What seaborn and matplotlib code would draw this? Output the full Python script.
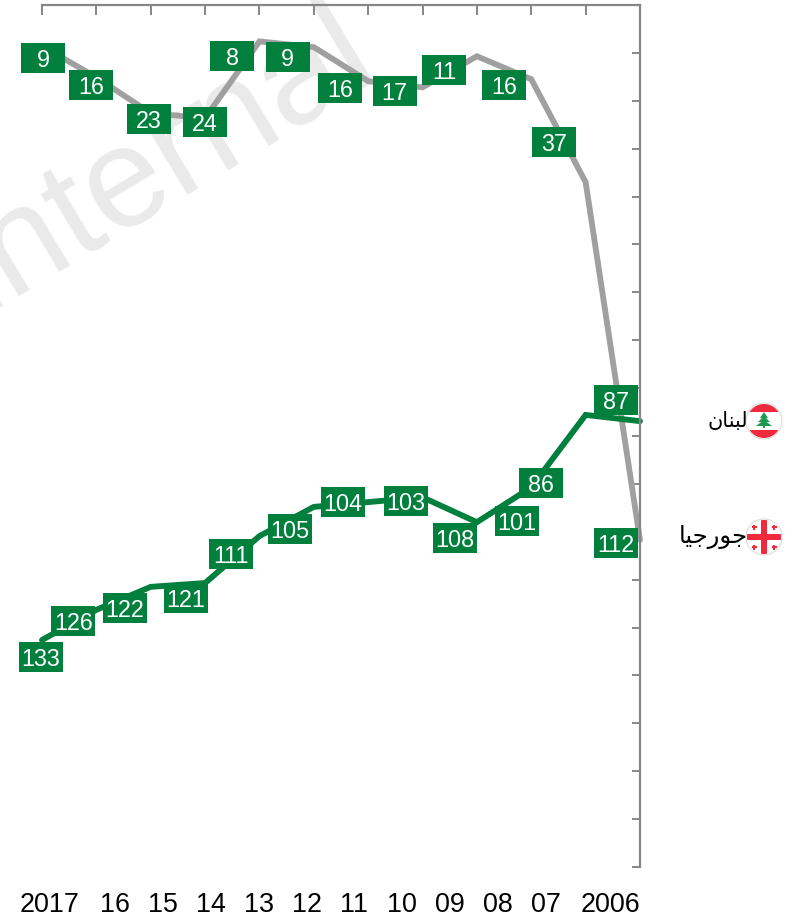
import numpy as np
import pandas as pd
import matplotlib
matplotlib.use("Agg")
import matplotlib.pyplot as plt
import seaborn as sns
from matplotlib.patches import Circle, Rectangle, Polygon
from matplotlib.path import Path
from matplotlib.transforms import Affine2D

years = ["2017", "16", "15", "14", "13", "12", "11", "10", "09", "08", "07", "2006"]

# arabic names, already in shaped form and visual order (matplotlib does not shape)
name_lebanon = "\uFEE5\uFE8E\uFEE8\uFE92\uFEDF"    # لبنان
name_georgia = "\uFE8E\uFEF4\uFE9F\uFEAD\uFEEE\uFE9F"    # جورجيا

georgia_pos = [17.14, 16.49, 15.74, 15.64, 17.24, 17.12, 16.41, 16.28, 16.93, 16.45, 14.30, 6.83]
lebanon_pos = [4.74, 5.37, 5.85, 5.93, 6.91, 7.52, 7.62, 7.72, 7.20, 7.93, 9.44, 9.31]
georgia_labels = [9, 16, 23, 24, 8, 9, 16, 17, 11, 16, 37, 112]
lebanon_labels = [133, 126, 122, 121, 111, 105, 104, 103, 108, 101, 86, 87]

# label box offsets from the point, in pixels (right, down)
georgia_off = [(1, 12), (-5, 8), (-2, 6), (0, 4), (-27, 15), (-26, 10),
               (-28, 7), (-28, 4), (-33, 14), (-27, 6), (-32, -40), (-24, 3)]
lebanon_off = [(-1, 17), (-23, 11), (-26, 21), (-19, 15), (-28, 18), (-24, 22),
               (-25, 0), (-17, 4), (-22, 16), (-14, 34), (-45, 68), (-24, -21)]

W, H = 796, 917
GREEN = "#007F3D"
GREY = "#A0A0A0"
AXIS = "#868686"
FONT = "Liberation Sans"

sns.set_style("white")
plt.rcParams["font.family"] = [FONT, "DejaVu Sans"]

fig = plt.figure(figsize=(W / 100, H / 100), dpi=100)
ax = fig.add_axes([42 / W, 1 - 867 / H, 598 / W, 862 / H])
ax.patch.set_visible(False)

df = pd.DataFrame({
    "x": list(range(12)) * 2,
    "pos": georgia_pos + lebanon_pos,
    "country": ["Georgia"] * 12 + ["Lebanon"] * 12,
})
sns.lineplot(data=df, x="x", y="pos", hue="country", palette={"Georgia": GREY, "Lebanon": GREEN},
             hue_order=["Georgia", "Lebanon"], linewidth=4.2, legend=False, ax=ax, clip_on=False,
             solid_joinstyle="miter")

ax.set_xlim(0, 11)
ax.set_ylim(0, 18)
ax.set_xticks(range(12))
ax.set_yticks(range(19))
ax.set_xlabel("")
ax.set_ylabel("")
ax.tick_params(axis="x", bottom=False, top=True, labelbottom=False, direction="in",
               length=7.5, width=1.4, color=AXIS)
ax.tick_params(axis="y", left=False, right=True, labelleft=False, direction="in",
               length=6, width=1.4, color=AXIS)
for side in ["left", "bottom"]:
    ax.spines[side].set_visible(False)
for side in ["top", "right"]:
    ax.spines[side].set_color(AXIS)
    ax.spines[side].set_linewidth(1.6)

# fixed size label boxes
box = Path([(-1, -0.68), (1, -0.68), (1, 0.68), (-1, 0.68), (-1, -0.68)], closed=True)


def draw_labels(pos, labels, offsets):
    for i, (p, lab, (dx, dy)) in enumerate(zip(pos, labels, offsets)):
        tr = ax.transData + Affine2D().translate(dx, -dy)
        ax.plot(i, p, marker=box, ms=44 * 0.72, color=GREEN, mew=0, transform=tr,
                zorder=5, clip_on=False)
        ax.text(i, p, str(lab), color="white", fontsize=16.8, ha="center", va="center_baseline",
                transform=tr, zorder=6, clip_on=False)


draw_labels(georgia_pos, georgia_labels, georgia_off)
draw_labels(lebanon_pos, lebanon_labels, lebanon_off)

# watermark
fig.text(-17 / W, 1 - 312 / H, "internal", fontsize=102, color="#EAEAEA", rotation=31,
         rotation_mode="anchor", ha="left", va="baseline", zorder=-1)

# year labels sit on their own even spacing, not under the points
year_x = [50] + [115 + 47.9 * i for i in range(10)] + [610]
for x, y in zip(year_x, years):
    fig.text(x / W, 1 - 902 / H, y, fontsize=19.4, color="black", ha="center", va="center_baseline")

# overlay in pixel coordinates for the flags and country names
ov = fig.add_axes([0, 0, 1, 1])
ov.set_xlim(0, W)
ov.set_ylim(H, 0)
ov.axis("off")

RED = "#EE2A3C"
cx, cy, r = 764, 421, 17
clip = Circle((cx, cy), r, transform=ov.transData)
ov.add_patch(Circle((cx, cy), r + 1, fc="white", ec="#DDDDDD", lw=0.8))
for y0 in [cy - r, cy + 9]:
    ov.add_patch(Rectangle((cx - r, y0), 2 * r, 8, fc=RED, ec="none", clip_path=clip))
for w, y0 in [(4, cy - 9), (6, cy - 5), (8, cy - 1)]:
    ov.add_patch(Polygon([(cx - w, y0 + 6), (cx + w, y0 + 6), (cx, y0)], fc="#1E9A50", ec="none"))
ov.add_patch(Rectangle((cx - 1, cy + 4), 2, 3, fc="#1E9A50", ec="none"))
ov.text(748, 421, name_lebanon, fontsize=15, family="DejaVu Sans", color="black", ha="right", va="center")

cx, cy = 764, 537
clip = Circle((cx, cy), r, transform=ov.transData)
ov.add_patch(Circle((cx, cy), r + 1, fc="white", ec="#DDDDDD", lw=0.8))
ov.add_patch(Rectangle((cx - 3, cy - r), 6, 2 * r, fc=RED, ec="none", clip_path=clip))
ov.add_patch(Rectangle((cx - r, cy - 3), 2 * r, 6, fc=RED, ec="none", clip_path=clip))
for sx in [-1, 1]:
    for sy in [-1, 1]:
        ov.add_patch(Rectangle((cx + sx * 10 - 2.5, cy + sy * 10 - 0.8), 5, 1.6, fc=RED, ec="none"))
        ov.add_patch(Rectangle((cx + sx * 10 - 0.8, cy + sy * 10 - 2.5), 1.6, 5, fc=RED, ec="none"))
ov.text(748, 537, name_georgia, fontsize=17.5, family="DejaVu Sans", color="black", ha="right", va="center")

fig.savefig("out.png", dpi=100)
